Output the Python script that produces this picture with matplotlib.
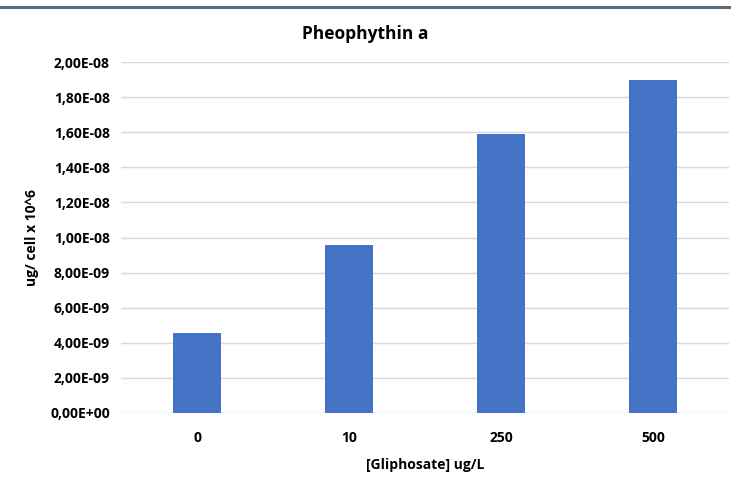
import matplotlib.pyplot as plt
from matplotlib.ticker import FuncFormatter
from matplotlib.lines import Line2D

categories = ['0', '10', '250', '500']
values = [4.57e-9, 9.57e-9, 1.59e-8, 1.897e-8]
y_ticks = [i * 2e-9 for i in range(11)]

plt.rcParams['font.family'] = ['Open Sans', 'DejaVu Sans']
plt.rcParams['font.weight'] = 'bold'

fig = plt.figure(figsize=(7.31, 4.83), dpi=100)
ax = fig.add_axes([121 / 731, 1 - 413 / 483, 608 / 731, 351 / 483])

x = list(range(len(categories)))
ax.bar(x, values, width=0.316, color='#4472c4', zorder=3)

ax.set_xlim(-0.5, len(categories) - 0.5)
ax.set_ylim(0, 2e-8)
ax.set_yticks(y_ticks)
ax.yaxis.set_major_formatter(FuncFormatter(
    lambda v, pos: ('%.2E' % v).replace('.', ',')))
ax.set_xticks(x)
ax.set_xticklabels(categories)
ax.grid(axis='y', color='#d9d9d9', linewidth=1, zorder=0)
ax.tick_params(length=0, labelsize=10, colors='black', pad=8)
ax.tick_params(axis='x', pad=13)
for s in ax.spines.values():
    s.set_visible(False)

ax.set_xlabel('[Gliphosate] ug/L', fontsize=10, fontweight='bold', labelpad=9)
ax.set_ylabel('ug/ cell x 10^6', fontsize=10, fontweight='bold', labelpad=8)
fig.text(0.5, 1 - 34 / 483, 'Pheophythin a', ha='center', va='center',
         fontsize=12.5, fontweight='bold')

# thin frame line at the top of the image
fig.add_artist(Line2D([0, 1], [1 - 6.5 / 483] * 2, transform=fig.transFigure,
                      color='#5b6b78', linewidth=2.2))

fig.savefig('out.png', dpi=100)
